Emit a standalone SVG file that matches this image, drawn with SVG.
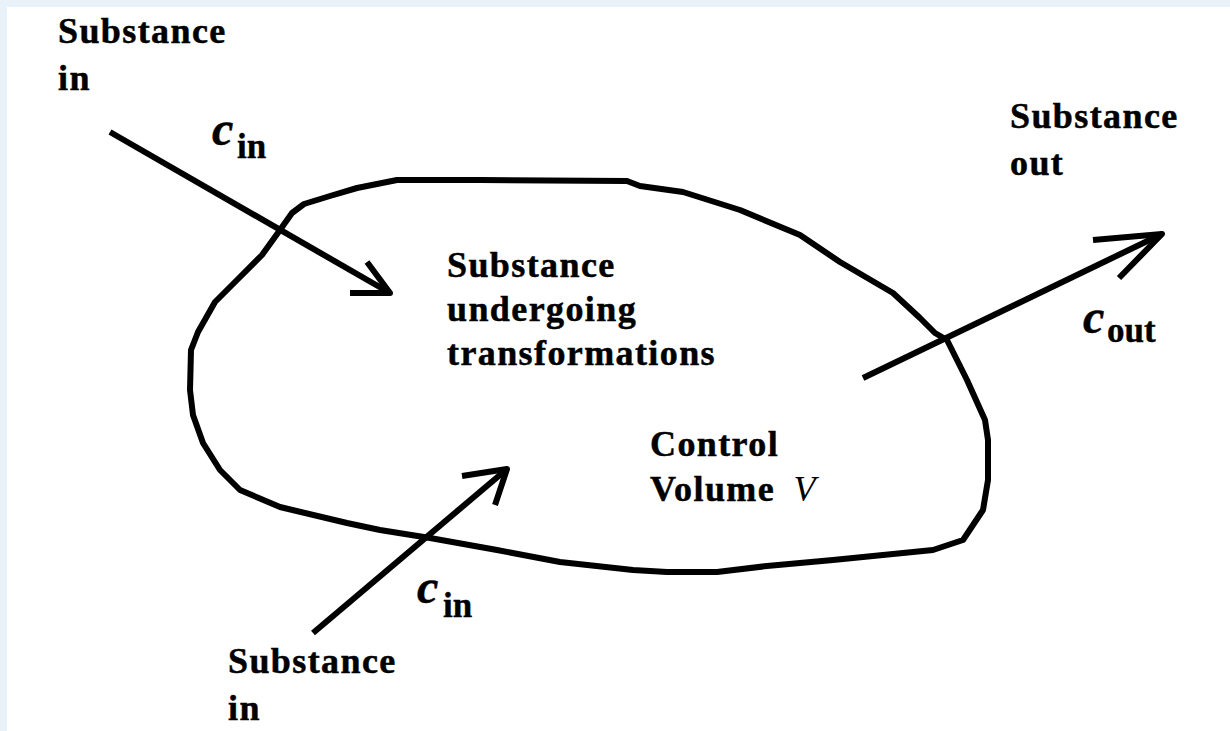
<svg xmlns="http://www.w3.org/2000/svg" width="1230" height="731" viewBox="0 0 1230 731">
<style>
.lbl{font-family:"Liberation Serif","Times New Roman",serif;font-weight:bold;font-size:36px;fill:#000;stroke:#000;stroke-width:0.5;letter-spacing:1.4px}
.var{font-family:"Liberation Serif","Times New Roman",serif;font-weight:bold;font-style:italic;font-size:48px;fill:#000;stroke:#000;stroke-width:0.5}
.sub{font-family:"Liberation Serif","Times New Roman",serif;font-weight:bold;font-size:35px;fill:#000;stroke:#000;stroke-width:0.4}
.line{fill:none;stroke:#000;stroke-width:6;stroke-linejoin:round}
</style>
<rect x="0" y="0" width="1230" height="731" fill="#e9f1f9"/>
<rect x="7" y="7" width="1223" height="724" fill="#ffffff"/>
<g id="control-volume">
<path class="line" d="M190,390 L191,350 L198,332 L215,302 L240,277 L262,255 L280,230 L292,213 L304,204 L330,196 L357,188 L397,180 L480,180 L627,181 L640,186 L683,192 L740,210 L800,235 L840,262 L893,293 L920,318 L935,333 L947,340 L967,380 L985,420 L988,440 L988,480 L983,510 L963,540 L933,550 L883,555 L833,560 L767,566 L717,572 L667,572 L633,570 L560,562 L497,550 L430,538 L380,530 L347,523 L280,507 L240,490 L220,470 L203,443 L193,415 Z"/>
<text class="lbl" x="447" y="277">Substance</text>
<text class="lbl" x="447" y="321">undergoing</text>
<text class="lbl" x="447" y="365">transformations</text>
<text class="lbl" x="650" y="456">Control</text>
<text class="lbl" x="650" y="501">Volume <tspan font-style="italic" font-weight="normal" stroke-width="0" dx="8">V</tspan></text>
</g>
<g id="in-top">
<text class="lbl" x="58" y="43">Substance</text>
<text class="lbl" x="58" y="90">in</text>
<text class="var" x="212" y="145">c</text>
<text class="sub" x="237" y="158">in</text>
</g>
<g id="in-bottom">
<text class="lbl" x="228" y="673">Substance</text>
<text class="lbl" x="228" y="720">in</text>
<text class="var" x="417" y="603">c</text>
<text class="sub" x="443" y="617">in</text>
</g>
<g id="out">
<text class="lbl" x="1010" y="128">Substance</text>
<text class="lbl" x="1010" y="175">out</text>
<text class="var" x="1083" y="333">c</text>
<text class="sub" x="1107" y="342">out</text>
</g>
<g id="connectors">
<path class="line" d="M110,132 L390,293"/>
<path class="line" d="M350,293 L390,293 L367,262"/>
<path class="line" d="M313,633 L507,469"/>
<path class="line" d="M462,476 L507,469 L495,505"/>
<path class="line" d="M863,378 L1162,234"/>
<path class="line" d="M1093,240 L1162,234 L1119,278"/>
</g>
</svg>
